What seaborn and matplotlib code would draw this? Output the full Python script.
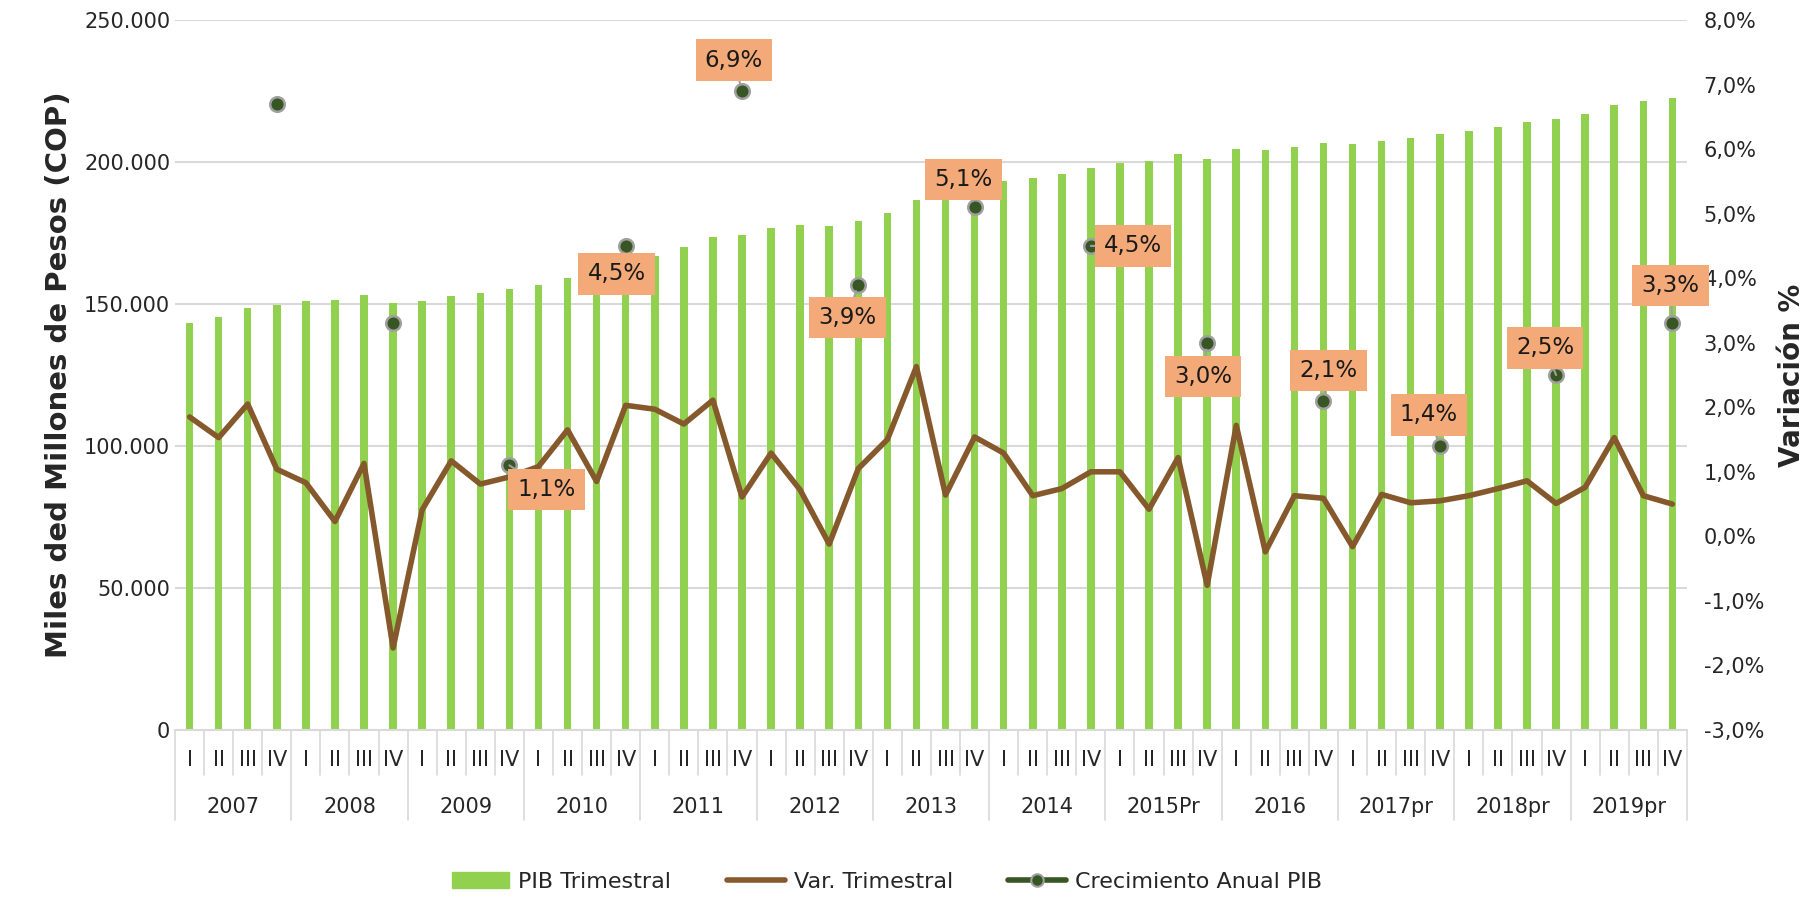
import numpy as np
import pandas as pd
import matplotlib
matplotlib.use('Agg')
import matplotlib.pyplot as plt
import matplotlib.transforms as mtransforms
from matplotlib.lines import Line2D
from matplotlib.patches import Patch
import seaborn as sns

# Data
years = ['2007', '2008', '2009', '2010', '2011', '2012', '2013',
         '2014', '2015Pr', '2016', '2017pr', '2018pr', '2019pr']
quarters = ['I', 'II', 'III', 'IV']

# PIB trimestral, miles de millones de pesos
pib = [143200, 145500, 148500, 149600, 151100, 151400, 153200, 150500,
       150900, 152800, 153800, 155200, 156700, 159200, 161800, 164200,
       166900, 170000, 173500, 174300, 176600, 177800, 177500, 179300,
       182000, 186700, 187800, 190500, 193300, 194400, 195800, 197800,
       199600, 200500, 202700, 201100, 204700, 204200, 205400, 206600,
       206300, 207400, 208600, 209700, 210800, 212300, 214200, 215300,
       216900, 220100, 221500, 222600]

# variacion trimestral, %
var_trim = [1.85, 1.53, 2.05, 1.04, 0.83, 0.23, 1.13, -1.73,
            0.41, 1.17, 0.81, 0.92, 1.08, 1.65, 0.85, 2.03,
            1.97, 1.74, 2.11, 0.61, 1.29, 0.72, -0.12, 1.05,
            1.50, 2.63, 0.64, 1.54, 1.29, 0.63, 0.74, 1.00,
            1.00, 0.42, 1.22, -0.76, 1.72, -0.24, 0.63, 0.59,
            -0.16, 0.65, 0.52, 0.55, 0.63, 0.74, 0.86, 0.51,
            0.76, 1.53, 0.63, 0.50]

# crecimiento anual PIB (cuarto trimestre), %
crec_anual = [6.7, 3.3, 1.1, 4.5, 6.9, 3.9, 5.1, 4.5, 3.0, 2.1, 1.4, 2.5, 3.3]
show_label = [False, False, True, True, True, True, True, True, True, True, True, True, True]
# label offsets in pixels (dx, dy) from the dot
label_off = [(0, 0), (0, 0), (37, -24), (-9, -28), (-8, 31), (-11, -33), (-11, 28),
             (42, 0), (-4, -34), (5, 30), (-11, 31), (-11, 27), (-2, 38)]

n = len(pib)
pos = np.arange(n)
df = pd.DataFrame({'pos': pos, 'pib': pib, 'var': var_trim})
iv_pos = pos[3::4]
df_anual = pd.DataFrame({'pos': iv_pos, 'crec': crec_anual})

GREEN = '#92D050'
BROWN = '#86592D'
DARK = '#375623'
ORANGE = '#F4AA78'
GRID = '#D9D9D9'

sns.set_style('white')
plt.rcParams['font.family'] = ['DejaVu Sans']

fig = plt.figure(figsize=(18.1, 8.97), dpi=100)
ax = fig.add_axes([0.0967, 0.1862, 0.8353, 0.7915])

sns.barplot(data=df, x='pos', y='pib', color=GREEN, width=0.26, saturation=1,
            linewidth=0, ax=ax, zorder=2)
ax.set_xlim(-0.5, n - 0.5)
ax.set_ylim(0, 250000)
ax.set_yticks(np.arange(0, 250001, 50000))
ax.set_yticklabels(['0' if v == 0 else f'{v:,.0f}'.replace(',', '.') for v in np.arange(0, 250001, 50000)],
                   fontsize=15, color='#262626')
ax.yaxis.grid(True, color=GRID, lw=1.5, zorder=0)
ax.set_axisbelow(True)
for s in ['top', 'right', 'left']:
    ax.spines[s].set_visible(False)
ax.spines['bottom'].set_color(GRID)
ax.spines['bottom'].set_linewidth(1.5)
ax.tick_params(axis='both', length=0)
ax.set_xticks([])
ax.set_xlabel('')
ax.set_ylabel('Miles ded Millones de Pesos (COP)', fontsize=21, fontweight='bold', labelpad=8)

ax2 = ax.twinx()
sns.lineplot(data=df, x='pos', y='var', color=BROWN, lw=4, ax=ax2, zorder=3)
sns.scatterplot(data=df_anual, x='pos', y='crec', color=DARK, s=110,
                edgecolor='#A0A0A0', linewidth=1.8, ax=ax2, zorder=5)
ax2.set_ylim(-3, 8)
ax2.set_xlim(-0.5, n - 0.5)
ax2.set_yticks(np.arange(-3, 8.1, 1))
ax2.set_yticklabels([f'{v:.1f}%'.replace('.', ',') for v in np.arange(-3, 8.1, 1)],
                    fontsize=15, color='#262626')
ax2.tick_params(axis='y', length=0, pad=12)
for s in ['top', 'right', 'left', 'bottom']:
    ax2.spines[s].set_visible(False)
ax2.set_xlabel('')
ax2.set_ylabel('Variación %', fontsize=20, fontweight='bold', labelpad=10)

for p, v, show, off in zip(iv_pos, crec_anual, show_label, label_off):
    if not show:
        continue
    ax2.annotate(f'{v:.1f}%'.replace('.', ','), xy=(p, v), xytext=off,
                 textcoords='offset pixels', ha='center', va='center',
                 fontsize=16.5, color='#1a1a1a', zorder=6,
                 bbox=dict(boxstyle='square,pad=0.4', fc=ORANGE, ec='none'),
                 arrowprops=dict(arrowstyle='-', color='#A0A0A0', lw=1.5,
                                 shrinkA=0, shrinkB=5))

# two-level category axis
trans = mtransforms.blended_transform_factory(ax.transData, ax.transAxes)
ax_h = 710.0
for i in range(n + 1):
    depth = 90 if i % 4 == 0 else 45
    ax.plot([i - 0.5, i - 0.5], [0, -depth / ax_h], transform=trans, color=GRID,
            lw=1.2, clip_on=False)
for i in range(n):
    ax.text(i, -30 / ax_h, quarters[i % 4], transform=trans, ha='center', va='center',
            fontsize=15, color='#262626')
for k, y in enumerate(years):
    ax.text(4 * k + 1.5, -77 / ax_h, y, transform=trans, ha='center', va='center',
            fontsize=15, color='#262626')

handles = [Patch(color=GREEN),
           Line2D([0], [0], color=BROWN, lw=4),
           Line2D([0], [0], color=DARK, lw=4, marker='o', markersize=9,
                  markerfacecolor=DARK, markeredgecolor='#A0A0A0', markeredgewidth=1.5)]
fig.legend(handles, ['PIB Trimestral', 'Var. Trimestral', 'Crecimiento Anual PIB'],
           loc='center', bbox_to_anchor=(0.49, 0.017), ncol=3, frameon=False,
           fontsize=16, handlelength=2.6, columnspacing=2.5, handletextpad=0.4)

fig.savefig('out.png', dpi=100, facecolor='white')
